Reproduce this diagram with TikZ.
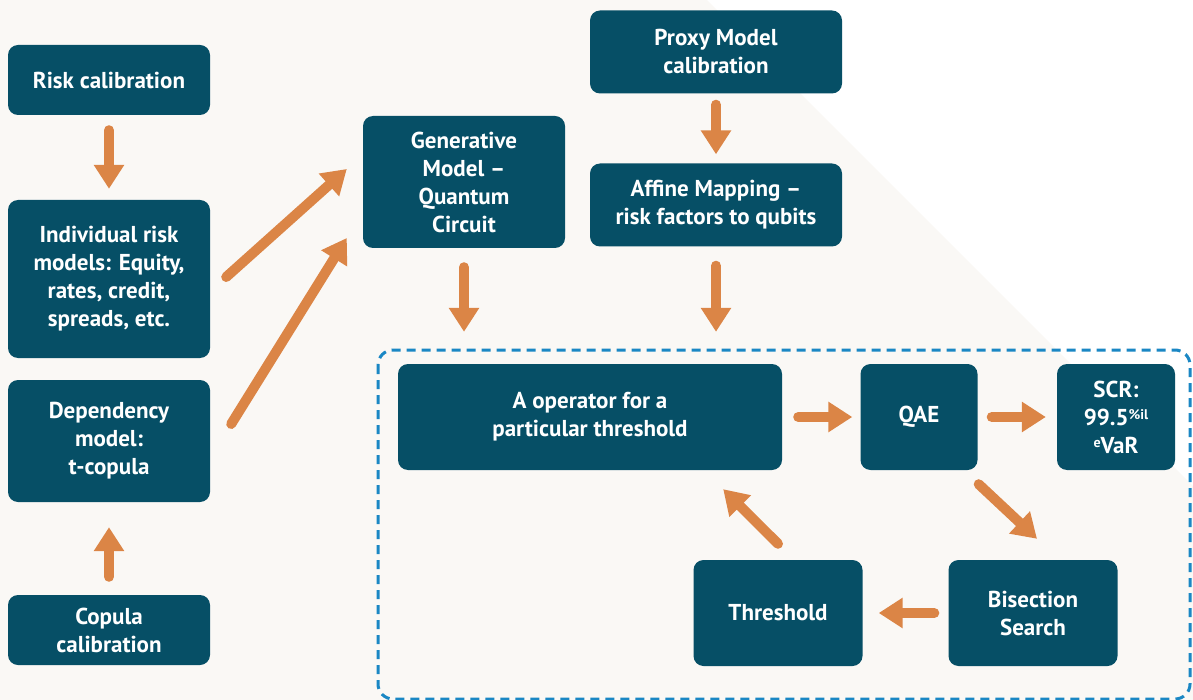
\documentclass[tikz,border=0pt]{standalone}
\usepackage{fontspec}
\setmainfont{PT Sans}
\usetikzlibrary{arrows.meta, positioning, calc}

\definecolor{boxteal}{HTML}{064F66}
\definecolor{arroworange}{HTML}{DB8546}
\definecolor{paper}{HTML}{FAF8F5}
\definecolor{loopblue}{HTML}{1A87C4}

\tikzset{
  block/.style={fill=boxteal, rounded corners=10pt, text=white, align=center,
    font=\bfseries\fontsize{23}{28}\selectfont, inner sep=0pt},
  flow/.style={draw=arroworange, line width=10pt, line cap=round,
    -{Triangle[width=29pt,length=24pt]}},
  loopframe/.style={draw=loopblue, line width=3pt, dash pattern=on 9pt off 6pt,
    rounded corners=15pt}
}

\begin{document}
\begin{tikzpicture}[x=1pt,y=-1pt]
  % background with the white corner
  \fill[paper] (0,0) rectangle (1193,700);
  \fill[white] (707,0) -- (1193,0) -- (1193,486) -- cycle;
  \useasboundingbox (0,0) rectangle (1193,700);

  % dashed frame round the search loop
  \draw[loopframe] (378,350) rectangle (1190,699);

  % left column
  \node[block, minimum width=202pt, minimum height=70pt]  (risk)  at (109,80)  {Risk calibration};
  \node[block, minimum width=202pt, minimum height=158pt] (indiv) at (109,279) {Individual risk\\models: Equity,\\rates, credit,\\spreads, etc.};
  \node[block, minimum width=202pt, minimum height=122pt] (dep)   at (109,441) {Dependency\\model:\\t-copula};
  \node[block, minimum width=202pt, minimum height=70pt]  (cop)   at (109,630) {Copula\\calibration};

  % upper middle
  \node[block, minimum width=202pt, minimum height=132pt] (gen)    at (464,182) {Generative\\Model --\\Quantum\\Circuit};
  \node[block, minimum width=252pt, minimum height=83pt]  (proxy)  at (716,52)  {Proxy Model\\calibration};
  \node[block, minimum width=252pt, minimum height=83pt]  (affine) at (716,205) {Affine Mapping --\\risk factors to qubits};

  % inside the loop
  \node[block, minimum width=384pt, minimum height=106pt] (aop) at (590,417)  {A operator for a\\particular threshold};
  \node[block, minimum width=117pt, minimum height=106pt] (qae) at (919,417)  {QAE};
  \node[block, minimum width=118pt, minimum height=106pt] (scr) at (1116,417) {SCR:\\99.5{\fontsize{14}{14}\selectfont\raisebox{6pt}{\%il}}\\{\fontsize{14}{14}\selectfont\raisebox{6pt}{e}}VaR};
  \node[block, minimum width=169pt, minimum height=106pt] (thr) at (778,613)  {Threshold};
  \node[block, minimum width=169pt, minimum height=106pt] (bis) at (1033,613) {Bisection\\Search};

  % arrows
  \draw[flow, shorten <=15pt, shorten >=11pt] (risk) -- (indiv);
  \draw[flow, shorten <=18pt, shorten >=25pt] (cop) -- (dep);
  \draw[flow] ($(indiv.east)+(16,-2)$) -- ($(gen.west)+(-16,-13)$);
  \draw[flow] ($(dep.east)+(21,-17)$) -- ($(gen.west)+(-16,56)$);
  \draw[flow, shorten <=19pt, shorten >=32pt] (gen.south) -- (gen.south |- aop.north);
  \draw[flow, shorten <=11pt, shorten >=9pt] (proxy) -- (affine);
  \draw[flow, shorten <=19pt, shorten >=32pt] (affine.south) -- (affine.south |- aop.north);
  \draw[flow, shorten <=16pt, shorten >=8pt] (aop) -- (qae);
  \draw[flow, shorten <=14pt, shorten >=11pt] (qae) -- (scr);
  \draw[flow] ($(qae.south east)+(1,14)$) -- ($(bis.north)+(4,-21)$);
  \draw[flow, shorten <=14pt, shorten >=16pt] (bis) -- (thr);
  \draw[flow] ($(thr.north)+(0,-16)$) -- ($(aop.south east)+(-59,19)$);
\end{tikzpicture}
\end{document}
